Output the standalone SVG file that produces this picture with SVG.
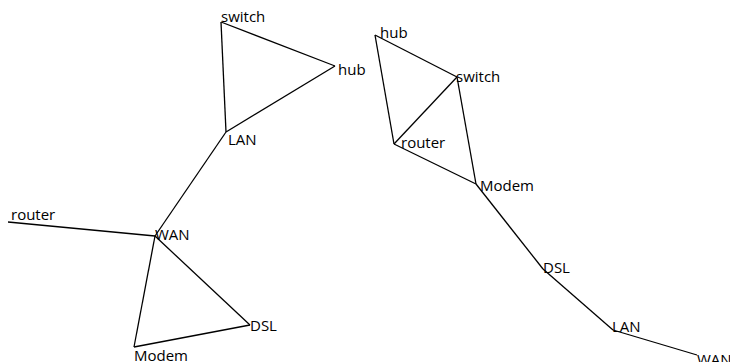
<svg xmlns="http://www.w3.org/2000/svg" width="730" height="362" viewBox="0 0 730 362">
<style>
text{font-family:"Open Sans","DejaVu Sans",sans-serif;font-size:15px;fill:#000}
.e line{stroke:#000;stroke-width:1.3}
</style>
<rect width="730" height="362" fill="#fff"/>
<g class="e" id="connectors">
<line x1="221" y1="22" x2="335" y2="66"/>
<line x1="221" y1="22" x2="226" y2="132"/>
<line x1="335" y1="66" x2="226" y2="132"/>
<line x1="226" y1="132" x2="155" y2="236"/>
<line x1="8" y1="222" x2="155" y2="236"/>
<line x1="155" y1="236" x2="134" y2="347"/>
<line x1="155" y1="236" x2="250" y2="325"/>
<line x1="134" y1="347" x2="250" y2="325"/>
<line x1="375" y1="35" x2="457" y2="77"/>
<line x1="375" y1="35" x2="394" y2="144"/>
<line x1="457" y1="77" x2="394" y2="144"/>
<line x1="457" y1="77" x2="476" y2="184"/>
<line x1="394" y1="144" x2="476" y2="184"/>
<line x1="476" y1="184" x2="543" y2="269"/>
<line x1="543" y1="269" x2="613" y2="330"/>
<line x1="613" y1="330" x2="697" y2="355"/>
</g>
<g id="l-switch"><text x="221" y="22">switch</text></g>
<g id="l-hub"><text x="338" y="75">hub</text></g>
<g id="l-lan"><text x="228" y="145">LAN</text></g>
<g id="l-wan"><text x="155" y="240">WAN</text></g>
<g id="l-router"><text x="11" y="220">router</text></g>
<g id="l-modem"><text x="134" y="361">Modem</text></g>
<g id="l-dsl"><text x="250" y="331">DSL</text></g>
<g id="r-hub"><text x="380" y="38">hub</text></g>
<g id="r-switch"><text x="456" y="82">switch</text></g>
<g id="r-router"><text x="401" y="148">router</text></g>
<g id="r-modem"><text x="480" y="191">Modem</text></g>
<g id="r-dsl"><text x="543" y="273">DSL</text></g>
<g id="r-lan"><text x="612" y="332">LAN</text></g>
<g id="r-wan"><text x="697" y="365">WAN</text></g>
</svg>
